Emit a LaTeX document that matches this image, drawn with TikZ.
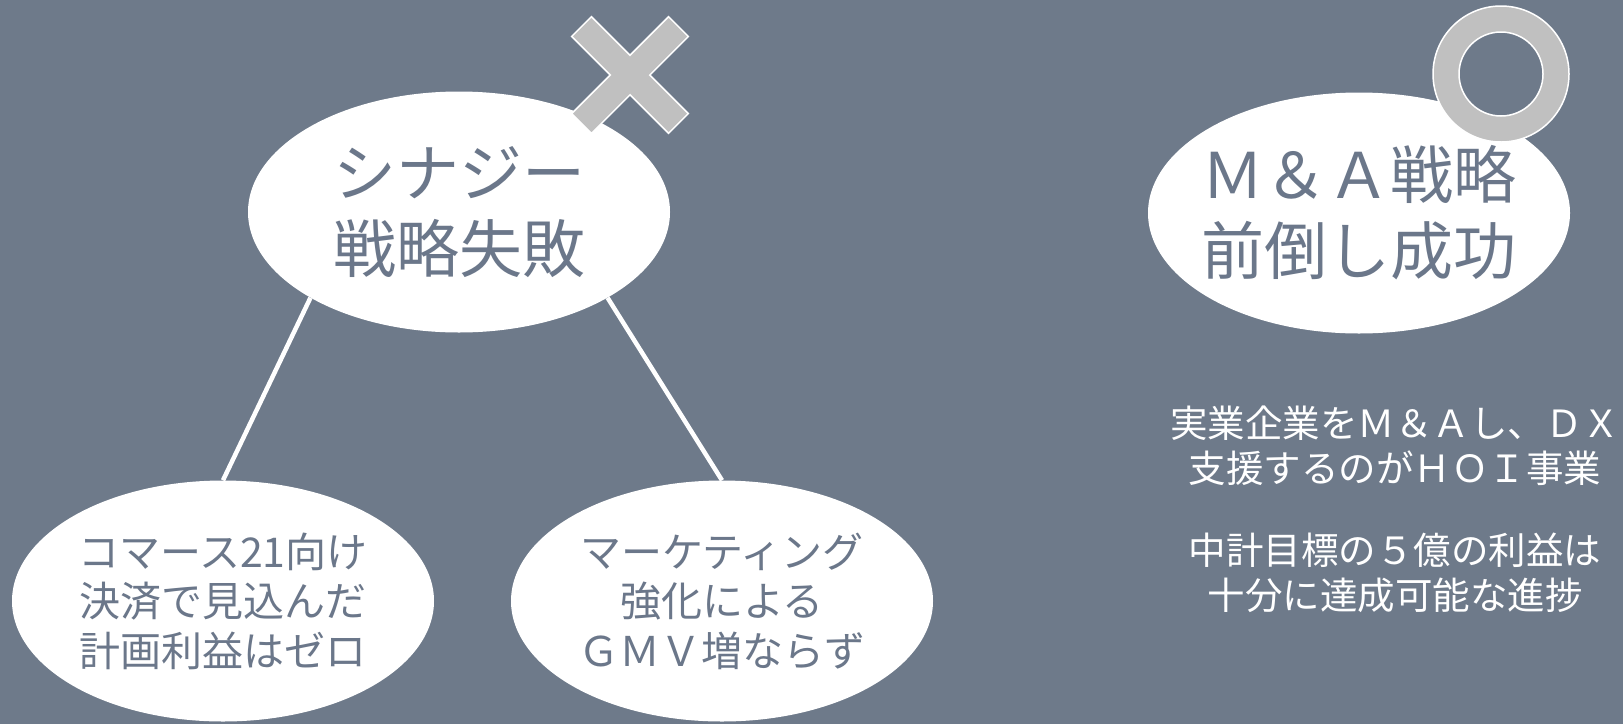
\documentclass[tikz,border=0pt]{standalone}
\usepackage{fontspec}
\newfontfamily\jpfont{Noto Sans CJK JP}
\usepackage{tikz}
\usetikzlibrary{positioning,shapes.geometric}
\definecolor{slatebg}{HTML}{6E7A8A}
\definecolor{slatetext}{HTML}{6B778A}
\definecolor{markgray}{HTML}{C0C0C0}
\tikzset{
    bubble/.style = {ellipse, fill=white, inner sep=0pt,
                     minimum width=422pt, minimum height=241pt,
                     text=slatetext, align=center},   % <--- white ovals
       big/.style = {bubble, font=\jpfont\fontsize{63}{76}\selectfont},
     small/.style = {bubble, font=\jpfont\fontsize{41}{49.5}\selectfont},
      note/.style = {text=white, align=center, inner sep=0pt,
                     font=\jpfont\fontsize{37.5}{45}\selectfont},
      link/.style = {draw=white, line width=4.5pt},
     badge/.style = {fill=markgray, draw=white, line width=1.5pt},
        }

\begin{document}
\begin{tikzpicture}[x=1pt, y=-1pt]
  \fill[slatebg] (0,0) rectangle (1623,724);
  \useasboundingbox (0,0) rectangle (1623,724);

  \node[big]   (syn) at (459,212) {シナジー\\戦略失敗};
  \node[big, inner xsep=-14pt] (ma) at (1359,213) {Ｍ＆Ａ戦略\\前倒し成功};
  \node[small] (pay) at (223,601) {コマース21向け\\決済で見込んだ\\計画利益はゼロ};
  \node[small] (mkt) at (722,601) {マーケティング\\強化による\\ＧＭＶ増ならず};

  \node[note] (note1) at (1395,446) {実業企業をＭ＆Ａし、ＤＸ\\支援するのがＨＯＩ事業};
  \node[note, below=47pt of note1] (note2) {中計目標の５億の利益は\\十分に達成可能な進捗};

  \draw[link] (syn.210) -- (pay.north);
  \draw[link] (syn.330) -- (mkt.north);

  % cross on the failed side
  \begin{scope}[shift={(630,75)}, rotate=45]
    \draw[badge] (14,68.5) -- (14,14) -- (68.5,14) -- (68.5,-14) -- (14,-14)
      -- (14,-68.5) -- (-14,-68.5) -- (-14,-14) -- (-68.5,-14) -- (-68.5,14)
      -- (-14,14) -- (-14,68.5) -- cycle;
  \end{scope}
  % ring on the successful side
  \draw[badge, even odd rule] (1501,74) circle[radius=68pt]
                              (1501,74) circle[radius=42pt];
\end{tikzpicture}
\end{document}
